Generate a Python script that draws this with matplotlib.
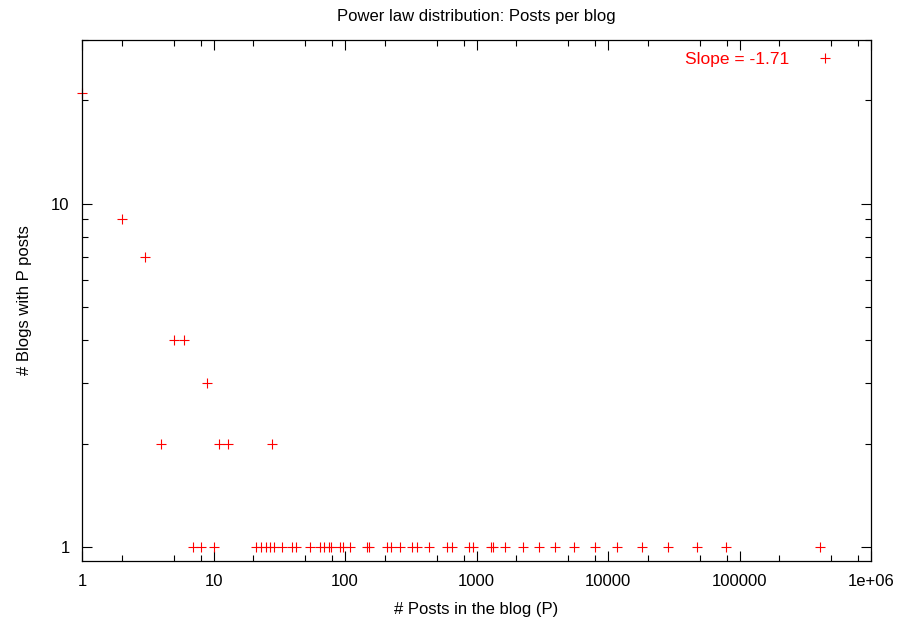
import matplotlib
matplotlib.use("Agg")
import matplotlib.pyplot as plt
from matplotlib.ticker import FixedLocator, NullFormatter

plt.rcParams['font.family'] = ['Liberation Sans', 'DejaVu Sans']

# posts per blog (P) and number of blogs with P posts
posts = [1, 2, 3, 4, 5, 6, 9, 11, 13, 28,
         7, 8, 10, 21, 23, 25, 27, 29, 33, 39.5, 42.6, 54.5, 64, 69, 75, 78,
         91, 97, 110, 147, 153, 209, 224, 261, 324, 354, 434, 599, 654,
         875, 945, 1280, 1343, 1637, 2270, 2985, 3930, 5515, 7925, 11800,
         17990, 28380, 47400, 79300, 410000]
blogs = [21, 9, 7, 2, 4, 4, 3, 2, 2, 2,
         1, 1, 1, 1, 1, 1, 1, 1, 1, 1, 1, 1, 1, 1, 1, 1,
         1, 1, 1, 1, 1, 1, 1, 1, 1, 1, 1, 1, 1,
         1, 1, 1, 1, 1, 1, 1, 1, 1, 1, 1,
         1, 1, 1, 1, 1]
slope_label = "Slope = -1.71"

x_ticks = [1, 10, 100, 1000, 10000, 100000, 1000000]
x_labels = ["1", "10", "100", "1000", "10000", "100000", "1e+06"]
y_ticks = [1, 10]
y_labels = ["1", "10"]

fig = plt.figure(figsize=(9.01, 6.2), dpi=100)
ax = fig.add_axes([82 / 901, 1 - 561 / 620, (871 - 82) / 901, (561 - 40) / 620])

ax.plot(posts, blogs, linestyle='none', marker='+', color='red',
        markersize=7.5, markeredgewidth=0.8, label=slope_label, clip_on=False)

ax.set_xscale('log')
ax.set_yscale('log')
ax.set_xlim(1, 1e6)
ax.set_ylim(0.91, 30)

ax.xaxis.set_major_locator(FixedLocator(x_ticks))
ax.set_xticklabels(x_labels)
x_minor = [m * 10 ** d for d in range(6) for m in (2, 5, 8)]
ax.xaxis.set_minor_locator(FixedLocator(x_minor))
ax.xaxis.set_minor_formatter(NullFormatter())

ax.yaxis.set_major_locator(FixedLocator(y_ticks))
ax.set_yticklabels(y_labels)
y_minor = [m * 10 ** d for d in range(2) for m in range(2, 10)]
ax.yaxis.set_minor_locator(FixedLocator(y_minor))
ax.yaxis.set_minor_formatter(NullFormatter())

ax.tick_params(which='both', direction='in', top=True, right=True,
               width=0.8, labelsize=12, pad=9)
ax.tick_params(which='major', length=7)
ax.tick_params(which='minor', length=4)
for s in ax.spines.values():
    s.set_linewidth(0.9)

ax.set_title("Power law distribution: Posts per blog", fontsize=12, pad=14)
ax.set_xlabel("# Posts in the blog (P)", fontsize=12, labelpad=10)
ax.set_ylabel("# Blogs with P posts", fontsize=12, labelpad=14)

ax.legend(loc='upper right', frameon=False, markerfirst=False,
          labelcolor='red', fontsize=12.5, handlelength=2.5,
          handletextpad=0.8, borderaxespad=0.3,
          bbox_to_anchor=(1 - 12 / 789, 1.0))

fig.savefig("out.png", dpi=100)
